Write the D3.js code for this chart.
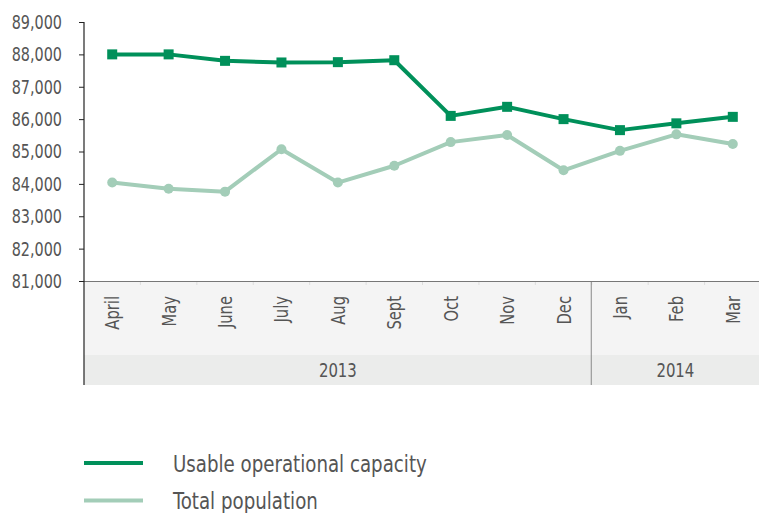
<!DOCTYPE html>
<html>
<head>
<meta charset="utf-8">
<script src="https://cdn.jsdelivr.net/npm/d3@7"></script>
<style>
  html, body { margin: 0; padding: 0; background: #fff; }
  svg text { font-family: "DejaVu Sans Condensed", "DejaVu Sans", sans-serif; fill: #555; }
</style>
</head>
<body>
<div id="vis-display"></div>
<script>
// Usable operational capacity vs total population, April 2013 – March 2014.

const MONTHS     = ["April", "May", "June", "July", "Aug", "Sept", "Oct", "Nov", "Dec", "Jan", "Feb", "Mar"];
const YEARS      = [{ label: "2013", from: 0, to: 9 }, { label: "2014", from: 9, to: 12 }];
const CAPACITY   = [88000, 88000, 87800, 87750, 87760, 87820, 86100, 86380, 86000, 85660, 85870, 86070];
const POPULATION = [84040, 83850, 83760, 85070, 84040, 84560, 85290, 85510, 84420, 85020, 85530, 85230];
const Y_TICKS    = [81000, 82000, 83000, 84000, 85000, 86000, 87000, 88000, 89000];

const SERIES = [
  { label: "Usable operational capacity", values: CAPACITY,   color: "#00905a", marker: "square" },
  { label: "Total population",            values: POPULATION, color: "#a3cdb8", marker: "circle" },
];

const W = 759, H = 513;
const plot = { left: 84, right: 761, top: 22, bottom: 281 };
const monthRowH = 74, yearRowH = 30;
const SQUEEZE = 0.8;   // no condensed face installed, so squash text horizontally

const svg = d3.select("#vis-display").append("svg")
  .attr("width", W)
  .attr("height", H);

// ── Scales ───────────────────────────────────────────────────────────────────

const x = d3.scaleBand()
  .domain(MONTHS)
  .range([plot.left, plot.right]);

const y = d3.scaleLinear()
  .domain([81000, 89000])
  .range([plot.bottom, plot.top]);

const step = x.step();
const cx = m => x(m) + step / 2;

// ── Category area (months + years) ───────────────────────────────────────────

svg.append("rect")
  .attr("x", plot.left).attr("y", plot.bottom)
  .attr("width", W - plot.left).attr("height", monthRowH)
  .attr("fill", "#f4f4f4");

svg.append("rect")
  .attr("x", plot.left).attr("y", plot.bottom + monthRowH)
  .attr("width", W - plot.left).attr("height", yearRowH)
  .attr("fill", "#ebeceb");

// faint category dividers
svg.append("g")
  .selectAll("line")
  .data(MONTHS.slice(1))
  .join("line")
    .attr("x1", d => x(d)).attr("x2", d => x(d))
    .attr("y1", plot.bottom).attr("y2", plot.bottom + 4)
    .attr("stroke", "#ddd").attr("stroke-width", 1);

svg.append("g")
  .selectAll("text")
  .data(MONTHS)
  .join("text")
    .attr("transform", d => `translate(${cx(d) + 7},${plot.bottom + 15}) rotate(-90) scale(${SQUEEZE + 0.02},1)`)
    .attr("text-anchor", "end")
    .style("font-size", "20px")
    .text(d => d);

YEARS.forEach(({ label, from, to }) => {
  const x0 = x(MONTHS[from]);
  const x1 = to < MONTHS.length ? x(MONTHS[to]) : W;
  svg.append("text")
    .attr("transform", `translate(${(x0 + x1) / 2},${plot.bottom + monthRowH + 22}) scale(${SQUEEZE + 0.03},1)`)
    .attr("text-anchor", "middle")
    .style("font-size", "20px")
    .text(label);
});

// year separator
const sep = x(MONTHS[YEARS[1].from]) - 0.5;
svg.append("line")
  .attr("x1", sep).attr("x2", sep)
  .attr("y1", plot.bottom).attr("y2", plot.bottom + monthRowH + yearRowH)
  .attr("stroke", "#888").attr("stroke-width", 1);

// baseline
svg.append("line")
  .attr("x1", plot.left).attr("x2", W)
  .attr("y1", plot.bottom + 0.5).attr("y2", plot.bottom + 0.5)
  .attr("stroke", "#777").attr("stroke-width", 1);

// ── Y axis ───────────────────────────────────────────────────────────────────

svg.append("g")
  .attr("transform", `translate(${plot.left},0)`)
  .call(d3.axisLeft(y).tickValues(Y_TICKS).tickSize(5).tickFormat(d3.format(",")))
  .call(ax => ax.select(".domain").remove())
  .call(ax => ax.selectAll(".tick line").attr("stroke", "#222"))
  .selectAll("text")
    .attr("x", -22 / SQUEEZE)
    .attr("transform", `scale(${SQUEEZE},1)`)
    .style("font-size", "20px")
    .style("font-family", "'DejaVu Sans Condensed', 'DejaVu Sans', sans-serif")
    .style("fill", "#555");

svg.append("line")
  .attr("x1", plot.left).attr("x2", plot.left)
  .attr("y1", plot.top).attr("y2", plot.bottom + monthRowH + yearRowH)
  .attr("stroke", "#222").attr("stroke-width", 1.2);

// ── Lines + markers ──────────────────────────────────────────────────────────

const line = d3.line()
  .x((d, i) => cx(MONTHS[i]))
  .y(d => y(d));

// draw the light series first so the dark one sits on top
[...SERIES].reverse().forEach(s => {
  svg.append("path")
    .datum(s.values)
    .attr("d", line)
    .attr("fill", "none")
    .attr("stroke", s.color)
    .attr("stroke-width", 4)
    .attr("stroke-linejoin", "round");

  const pts = svg.append("g")
    .selectAll(s.marker === "square" ? "rect" : "circle")
    .data(s.values)
    .join(s.marker === "square" ? "rect" : "circle")
      .attr("fill", s.color);

  if (s.marker === "square") {
    pts.attr("x", (d, i) => cx(MONTHS[i]) - 5)
       .attr("y", d => y(d) - 5)
       .attr("width", 10).attr("height", 10);
  } else {
    pts.attr("cx", (d, i) => cx(MONTHS[i]))
       .attr("cy", d => y(d))
       .attr("r", 5);
  }
});

// ── Legend ───────────────────────────────────────────────────────────────────

const legend = svg.append("g").attr("transform", "translate(84,463)");
SERIES.forEach((s, i) => {
  const gy = i * 37.5;
  legend.append("line")
    .attr("x1", 0).attr("x2", 59)
    .attr("y1", gy).attr("y2", gy)
    .attr("stroke", s.color).attr("stroke-width", 4);
  legend.append("text")
    .attr("transform", `translate(89,${gy + 8.5}) scale(0.88,1)`)
    .style("font-size", "23px")
    .text(s.label);
});
</script>
</body>
</html>
